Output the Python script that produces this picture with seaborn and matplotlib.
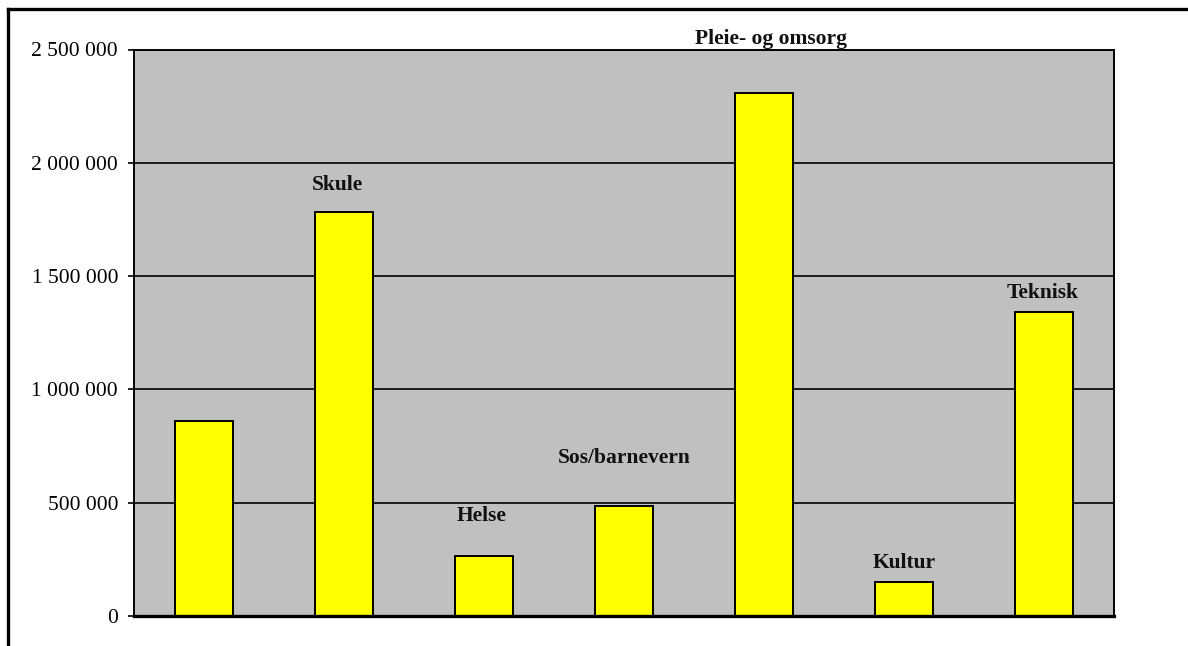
import matplotlib
matplotlib.use("Agg")
import matplotlib.pyplot as plt
from matplotlib.lines import Line2D
from matplotlib.ticker import FuncFormatter
import seaborn as sns
import pandas as pd

# ---- data ----
categories = ["", "Skule", "Helse", "Sos/barnevern", "Pleie- og omsorg", "Kultur", "Teknisk"]
values = [861000, 1784000, 266000, 487000, 2306000, 149000, 1340000]
y_ticks = [0, 500000, 1000000, 1500000, 2000000, 2500000]

# label placement (points): horizontal nudge and height of baseline above bar top
label_dx = [0, -4.7, -1.4, 0.5, 4.7, 0, -1.2]
label_dy = [0, 15.6, 25.2, 30.7, 35.8, 10.1, 10.4]

df = pd.DataFrame({"kategori": categories, "verdi": values})

sns.set_theme(style="white")
plt.rcParams["font.family"] = ["Liberation Serif", "DejaVu Serif"]

fig = plt.figure(figsize=(11.88, 6.46), dpi=100)
ax = fig.add_axes([134 / 1188, 30 / 646, 980 / 1188, 566.5 / 646])
ax.set_facecolor("#C0C0C0")

sns.barplot(data=df, x="kategori", y="verdi", order=categories, color="#FFFF00",
            saturation=1, width=0.414, edgecolor="black", linewidth=1.4, ax=ax)

ax.set_ylim(0, 2500000)
ax.set_xlim(-0.5, len(categories) - 0.5)
ax.set_yticks(y_ticks)
ax.yaxis.set_major_formatter(FuncFormatter(lambda v, p: f"{int(v):,}".replace(",", " ")))
ax.set_axisbelow(True)
ax.yaxis.grid(True, color="black", linewidth=1.2)
ax.xaxis.grid(False)
ax.set_xticks([])
ax.set_xlabel("")
ax.set_ylabel("")
ax.tick_params(axis="y", direction="out", length=4.5, width=1.2, color="black",
               labelsize=15.5, labelcolor="black", pad=7, left=True)
for side in ["left", "right", "top"]:
    ax.spines[side].set_visible(True)
    ax.spines[side].set_color("black")
    ax.spines[side].set_linewidth(1.4)
ax.spines["bottom"].set_visible(True)
ax.spines["bottom"].set_color("black")
ax.spines["bottom"].set_linewidth(2.4)

for i, (lab, v) in enumerate(zip(categories, values)):
    if lab:
        ax.annotate(lab, xy=(i, v), xytext=(label_dx[i], label_dy[i]),
                    textcoords="offset points", ha="center", va="baseline",
                    fontsize=15.5, fontweight="bold", color="#111111",
                    annotation_clip=False)

# outer frame (left and top edges)
fig.add_artist(Line2D([8 / 1188, 8 / 1188], [0, 1 - 8.5 / 646], transform=fig.transFigure,
                      color="black", linewidth=2.4, solid_capstyle="projecting"))
fig.add_artist(Line2D([8 / 1188, 1], [1 - 8.5 / 646, 1 - 8.5 / 646], transform=fig.transFigure,
                      color="black", linewidth=2.4, solid_capstyle="projecting"))

fig.savefig("out.png", dpi=100, facecolor="white")
